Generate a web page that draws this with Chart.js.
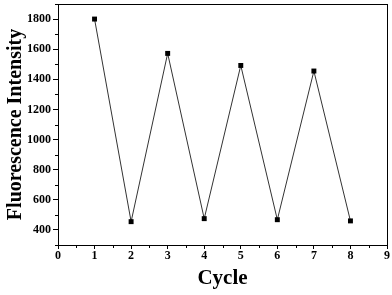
<!DOCTYPE html>
<html>
<head>
<meta charset="utf-8">
<script src="https://cdn.jsdelivr.net/npm/chart.js@4/dist/chart.umd.min.js"></script>
<style>
  html, body { margin: 0; padding: 0; background: #fff; }
  #wrap { width: 392px; height: 295px; }
</style>
</head>
<body>
<div id="wrap"><canvas id="cycleChart" width="392" height="295"></canvas></div>
<script>
const cycles = [1, 2, 3, 4, 5, 6, 7, 8];
const intensity = [1800, 455, 1572, 475, 1492, 468, 1455, 460];
const xTicks = [0, 1, 2, 3, 4, 5, 6, 7, 8, 9];
const yTicks = [400, 600, 800, 1000, 1200, 1400, 1600, 1800];
const xMinor = [0.5, 1.5, 2.5, 3.5, 4.5, 5.5, 6.5, 7.5, 8.5];
const yMinor = [300, 500, 700, 900, 1100, 1300, 1500, 1700, 1900];

const serif = "'Liberation Serif', 'DejaVu Serif', serif";

// frame + minor ticks
const framePlugin = {
  id: "frame",
  afterDraw(chart) {
    const { ctx, chartArea: a, scales } = chart;
    ctx.save();
    ctx.strokeStyle = "#000";
    ctx.lineWidth = 1;
    ctx.strokeRect(a.left + 0.5, a.top + 0.5, a.right - a.left, a.bottom - a.top);
    ctx.beginPath();
    xMinor.forEach((v) => {
      const px = Math.round(scales.x.getPixelForValue(v)) + 0.5;
      ctx.moveTo(px, a.bottom);
      ctx.lineTo(px, a.bottom + 3);
    });
    yMinor.forEach((v) => {
      const py = Math.round(scales.y.getPixelForValue(v)) + 0.5;
      ctx.moveTo(a.left, py);
      ctx.lineTo(a.left - 3, py);
    });
    ctx.stroke();
    ctx.restore();
  },
};

new Chart(document.getElementById("cycleChart").getContext("2d"), {
  type: "line",
  data: {
    datasets: [
      {
        data: cycles.map((c, i) => ({ x: c, y: intensity[i] })),
        borderColor: "#333",
        borderWidth: 1,
        pointStyle: "rect",
        pointRadius: 3.5,
        pointBackgroundColor: "#000",
        pointBorderColor: "#000",
        pointBorderWidth: 0,
        tension: 0,
      },
    ],
  },
  options: {
    responsive: false,
    animation: false,
    layout: { padding: { top: 2, right: 5, left: 0, bottom: 0 } },
    plugins: { legend: { display: false }, tooltip: { enabled: false } },
    scales: {
      x: {
        type: "linear",
        min: 0,
        max: 9,
        afterBuildTicks: (s) => { s.ticks = xTicks.map((v) => ({ value: v })); },
        afterFit: (s) => { s.height = 50; },
        grid: { drawOnChartArea: false, tickLength: 4, color: "#000" },
        border: { color: "#000" },
        ticks: {
          color: "#000",
          padding: 0,
          maxRotation: 0,
          font: { family: serif, size: 12, weight: "bold" },
        },
        title: {
          display: true,
          text: "Cycle",
          color: "#000",
          padding: { top: 4 },
          font: { family: serif, size: 21, weight: "bold" },
        },
      },
      y: {
        min: 300,
        max: 1900,
        afterBuildTicks: (s) => { s.ticks = yTicks.map((v) => ({ value: v })); },
        afterFit: (s) => { s.width = 58; s.paddingTop = 0; s.paddingBottom = 0; },
        grid: { drawOnChartArea: false, tickLength: 5, color: "#000" },
        border: { color: "#000" },
        ticks: {
          color: "#000",
          padding: 2,
          callback: (v) => String(v),
          font: { family: serif, size: 12, weight: "bold" },
        },
        title: {
          display: true,
          text: "Fluorescence Intensity",
          color: "#000",
          padding: { bottom: 0 },
          font: { family: serif, size: 20, weight: "bold" },
        },
      },
    },
  },
  plugins: [framePlugin],
});
</script>
</body>
</html>
